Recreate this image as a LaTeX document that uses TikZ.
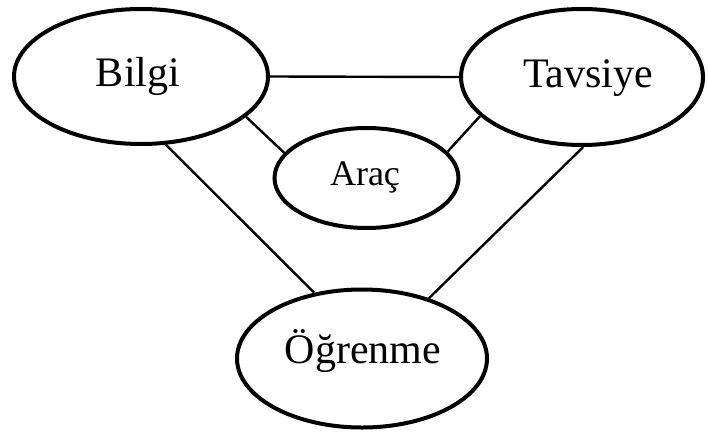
\documentclass[tikz,border=0pt]{standalone}
\usepackage{fontspec}
\setmainfont{Liberation Serif}
\usetikzlibrary{shapes.geometric}
\tikzset{
  oval/.style={ellipse, draw=black, line width=4pt, inner sep=0pt, fill=white},
  lbl/.style={anchor=base, inner sep=0pt, font=\fontsize{42}{50}\selectfont},
  lblsmall/.style={anchor=base, inner sep=0pt, font=\fontsize{36}{43}\selectfont},
  link/.style={draw=black, line width=2.4pt}
}
\begin{document}
\begin{tikzpicture}[x=1pt,y=-1pt]
\useasboundingbox (0,0) rectangle (708,436);
\node[oval, minimum width=254pt, minimum height=135pt] (bilgi) at (141,76.5) {};
\node[oval, minimum width=242pt, minimum height=136pt] (tavsiye) at (582,77) {};
\node[oval, minimum width=184pt, minimum height=100pt] (arac) at (366.5,178) {};
\node[oval, minimum width=250pt, minimum height=138pt] (ogrenme) at (362,358.5) {};
\node[lbl] (tbilgi) at (138,86) {Bilgi};
\node[lbl] (ttavsiye) at (588,87) {Tavsiye};
\node[lblsmall] (tarac) at (365,185) {Araç};
\node[lbl] (togrenme) at (363,363) {Öğrenme};
\draw[link] (bilgi.0) -- (tavsiye.180);
\draw[link] (bilgi.-21.6) -- (arac.163.3);
\draw[link] (tavsiye.201.9) -- (arac.18.1);
\draw[link] (bilgi.-70.3) -- (ogrenme.126.5);
\draw[link] (tavsiye.-89.2) -- (ogrenme.42.3);
\end{tikzpicture}
\end{document}
